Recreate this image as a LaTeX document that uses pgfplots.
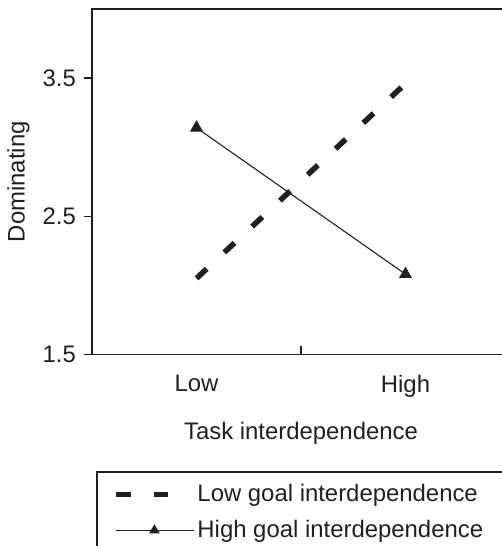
\documentclass[border=0pt]{standalone}
\usepackage{pgfplots}
\pgfplotsset{compat=1.18}
\usepackage{fontspec}
\setmainfont{Liberation Sans}
\definecolor{ink}{HTML}{231F20}
\begin{document}
\fontsize{23.9}{28}\selectfont
\begin{tikzpicture}[font=\fontsize{23.9}{28}\selectfont]
\begin{axis}[
  name=ax, at={(0,0)}, anchor=south west,
  scale only axis, width=418pt, height=345.3pt,
  xmin=0.5, xmax=2.5, ymin=1.5, ymax=4,
  clip=false,
  axis line style={ink, line width=1.2pt},
  every tick/.style={ink, line width=1.2pt},
  tick align=outside, major tick length=8pt,
  xtick={1.5}, xticklabels={},
  every major x tick/.append style={yshift=8pt},
  extra x ticks={1,2}, extra x tick labels={Low,High},
  extra x tick style={major tick length=0pt, xticklabel style={yshift=-13pt}},
  ytick={1.5,2.5,3.5}, yticklabels={1.5,2.5,3.5},
  ytick pos=left, xtick pos=bottom,
  tick label style={text=ink},
  xlabel={Task interdependence}, ylabel={Dominating},
  ylabel style={yshift=-3pt},
  label style={text=ink},
  legend style={draw=none, fill=none, at={(axis description cs:0.0526,-0.372)}, anchor=north west,
    inner sep=0pt, row sep=13pt, column sep=1.5pt, nodes={inner sep=1pt, text=ink}},
  legend cell align=left,
]
\addplot[ink, line width=5.5pt, dash pattern=on 14pt off 24pt,
  legend image code/.code={\path[draw=none] (0pt,0pt) -- (78pt,0pt);
    \draw[ink, line width=4.5pt, dash pattern=on 15pt off 23pt] (0pt,0pt) -- (52pt,0pt);}]
  coordinates {(1,2.05) (2,3.46)};
\addlegendentry{Low goal interdependence}
\addplot[ink, line width=1.1pt, mark=triangle*, mark size=6.5pt,
  legend image code/.code={\draw[ink, line width=1.1pt, mark=triangle*, mark size=5pt, mark repeat=2, mark phase=2] plot coordinates {(0pt,0pt) (38pt,0pt) (78pt,0pt)};}]
  coordinates {(1,3.14) (2,2.08)};
\addlegendentry{High goal interdependence}
\draw[ink, line width=1.2pt] (axis description cs:0.01196,-0.3409) rectangle (axis description cs:1.3,-0.8);
\end{axis}
\pgfresetboundingbox
\path[use as bounding box] ([shift={(-92pt,-191.7pt)}]ax.south west) rectangle ([shift={(409pt,9pt)}]ax.north west);
\end{tikzpicture}
\end{document}
